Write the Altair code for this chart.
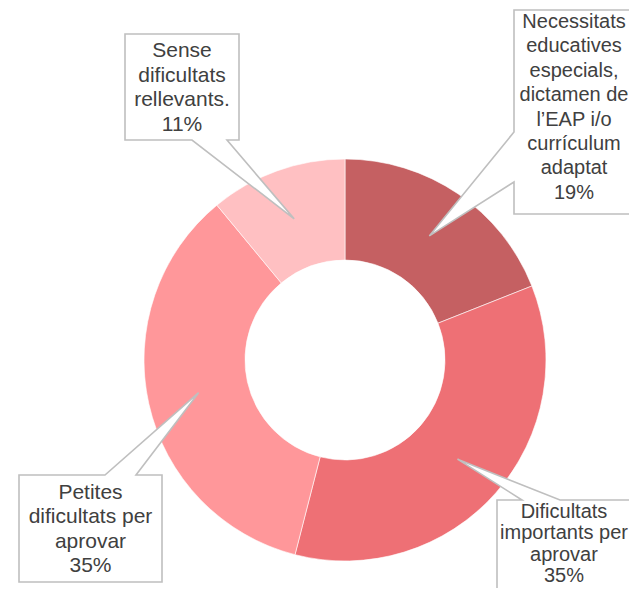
import math
import altair as alt
import pandas as pd

# ---- data ----
categories = [
    "Necessitats educatives especials, dictamen de l’EAP i/o currículum adaptat",
    "Dificultats importants per aprovar",
    "Petites dificultats per aprovar",
    "Sense dificultats rellevants.",
]
values = [19, 35, 35, 11]
label_lines = [
    ["Necessitats", "educatives", "especials,", "dictamen de", "l’EAP i/o", "currículum", "adaptat"],
    ["Dificultats", "importants per", "aprovar"],
    ["Petites", "dificultats per", "aprovar"],
    ["Sense", "dificultats", "rellevants."],
]
colors = ["#C56062", "#EE7075", "#FF979A", "#FFC0C2"]

# ---- layout (screen px -> chart px) ----
OFF = 8
W, H = 621, 580
CX, CY = 345 - OFF, 360 - OFF
R_OUT, R_IN, TIP_R = 201, 100, 150
# box: left, top, right, bottom (screen px), side of pointer, base start, base end
boxes = [
    (514, 10, 650, 214, "left", 132, 182),
    (497, 500, 650, 620, "top", 522, 560),
    (19, 475, 162, 582, "top", 105, 136),
    (125, 34, 239, 140, "bottom", 192, 227),
]
# centre x, first-line centre y (screen px), line height, font size
text_pos = [(574, 22, 24.4, 20), (564, 512, 21.3, 20), (90.5, 493, 24.4, 21), (182, 51, 24.6, 21)]

total = sum(values)
cum = 0
tips = []
for v in values:
    mid = (cum + v / 2) / total * 2 * math.pi
    tips.append((CX + TIP_R * math.sin(mid), CY - TIP_R * math.cos(mid)))
    cum += v

features = []
for (L, T, R, B, side, a, b), tip in zip(boxes, tips):
    L, T, R, B, a, b = L - OFF, T - OFF, R - OFF, B - OFF, a - OFF, b - OFF
    pts = [(L, T)]
    if side == "top":
        pts += [(a, T), tip, (b, T)]
    pts += [(R, T), (R, B)]
    if side == "bottom":
        pts += [(b, B), tip, (a, B)]
    pts += [(L, B)]
    if side == "left":
        pts += [(L, b), tip, (L, a)]
    pts += [(L, T)]
    features.append({
        "type": "Feature",
        "properties": {},
        "geometry": {"type": "Polygon", "coordinates": [[list(p) for p in pts]]},
    })

df = pd.DataFrame({"category": categories, "value": values, "idx": list(range(len(values)))})

ring = alt.Chart(df).mark_arc(
    outerRadius=R_OUT, innerRadius=R_IN, stroke="white", strokeWidth=0.6
).encode(
    theta=alt.Theta("value:Q", stack=True),
    color=alt.Color("category:N", scale=alt.Scale(domain=categories, range=colors), legend=None),
    order=alt.Order("idx:Q"),
    x=alt.value(CX),
    y=alt.value(CY),
)

callouts = alt.Chart(alt.Data(values=features)).mark_geoshape(
    fill="white", stroke="#BFBFBF", strokeWidth=1.6
).project(type="identity", scale=1, translate=[0, 0])

label_layers = []
for lines, v, (tx, ty, lh, fs) in zip(label_lines, values, text_pos):
    t = pd.DataFrame({
        "label": ["\n".join(lines + [f"{round(v / total * 100)}%"])],
        "tx": [tx - OFF],
        "ty": [ty - OFF],
    })
    label_layers.append(
        alt.Chart(t).mark_text(
            font="Liberation Sans", fontSize=fs, color="#404040",
            lineBreak="\n", lineHeight=lh, align="center", baseline="middle"
        ).encode(
            x=alt.X("tx:Q", scale=None),
            y=alt.Y("ty:Q", scale=None),
            text="label:N",
        )
    )

chart = alt.layer(ring, callouts, *label_layers).properties(
    width=W, height=H, autosize=alt.AutoSizeParams(type="none"), padding=0
).configure_view(stroke=None)

chart.save("out.html", embed_options={"renderer": "svg", "actions": False})
